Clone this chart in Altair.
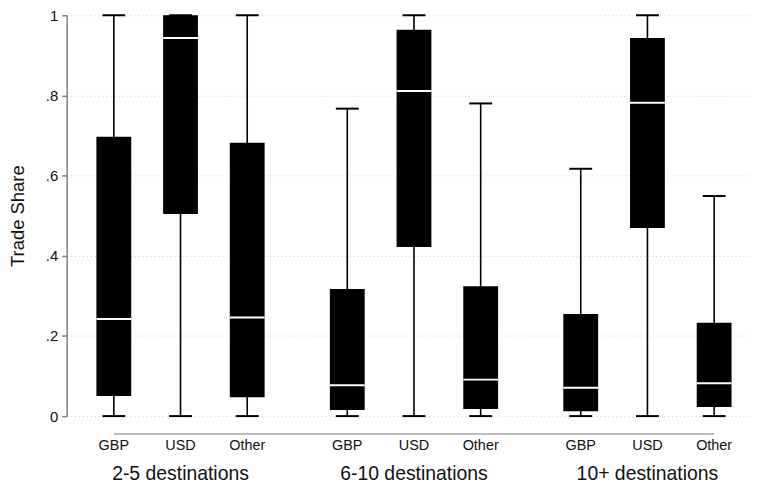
import altair as alt
import pandas as pd

groups = ["2-5 destinations", "6-10 destinations", "10+ destinations"]
currencies = ["GBP", "USD", "Other"]

lower = [0.0, 0.0, 0.0, 0.0, 0.0, 0.0, 0.0, 0.0, 0.0]
q1 = [0.050, 0.504, 0.047, 0.015, 0.422, 0.018, 0.012, 0.469, 0.023]
median = [0.242, 0.943, 0.246, 0.077, 0.811, 0.091, 0.071, 0.782, 0.082]
q3 = [0.697, 1.000, 0.682, 0.317, 0.964, 0.324, 0.255, 0.943, 0.233]
upper = [1.0, 1.0, 1.0, 0.767, 1.0, 0.780, 0.617, 1.0, 0.549]

GROUP_GAP = 0.5
rows = []
for gi, g in enumerate(groups):
    for ci, c in enumerate(currencies):
        k = gi * len(currencies) + ci
        rows.append({
            "group": g, "currency": c,
            "pos": gi * (len(currencies) + GROUP_GAP) + ci,
            "lower": lower[k], "q1": q1[k], "median": median[k],
            "q3": q3[k], "upper": upper[k],
        })
df = pd.DataFrame(rows)
gdf = df.groupby("group", sort=False)["pos"].mean().reset_index()
sep = pd.DataFrame({"pos": [df["pos"].min()], "pos_end": [df["pos"].max()]})

FONT = "Liberation Sans"
xscale = alt.Scale(domain=[-0.632, 9.478], nice=False, zero=False)
yscale = alt.Scale(domain=[0, 1], nice=False)
yaxis = alt.Axis(values=[0, 0.2, 0.4, 0.6, 0.8, 1],
                 labelExpr="replace(format(datum.value, '.1~f'), '0.', '.')",
                 labelFont=FONT, labelFontSize=15, labelColor="#111", labelPadding=4,
                 titleFont=FONT, titleFontSize=18.5, titleFontWeight="normal",
                 titleColor="#111")

x = alt.X("pos:Q", scale=xscale, axis=None)


def Y(field):
    return alt.Y(field, scale=yscale, title="Trade Share", axis=yaxis)


whisk = alt.Chart(df).mark_rule(color="black", strokeWidth=1.6).encode(
    x=x, y=Y("lower:Q"), y2="upper:Q")
cap_lo = alt.Chart(df).mark_tick(orient="horizontal", size=23, thickness=2,
                                 color="black", opacity=1).encode(x=x, y=Y("lower:Q"))
cap_hi = alt.Chart(df).mark_tick(orient="horizontal", size=23, thickness=2,
                                 color="black", opacity=1).encode(x=x, y=Y("upper:Q"))
box = alt.Chart(df).mark_bar(size=35, color="black").encode(x=x, y=Y("q1:Q"), y2="q3:Q")
med = alt.Chart(df).mark_tick(orient="horizontal", size=35, thickness=2,
                              color="white", opacity=1).encode(x=x, y=Y("median:Q"))

seprule = alt.Chart(sep).mark_rule(color="#a8a8a8", strokeWidth=1.5).encode(
    x=x, x2="pos_end:Q", y=alt.value(421))

cur_text = alt.Chart(df).mark_text(font=FONT, fontSize=14.5, color="#111",
                                   baseline="middle").encode(
    x=x, y=alt.value(433), text="currency:N")
grp_text = alt.Chart(gdf).mark_text(font=FONT, fontSize=19.5, color="#111",
                                    baseline="middle").encode(
    x=x, y=alt.value(461), text="group:N")

chart = alt.layer(whisk, cap_lo, cap_hi, box, med, seprule, cur_text, grp_text).properties(
    width=688, height=403,
    autosize=alt.AutoSizeParams(type="none"),
    padding={"left": 59, "top": 6, "right": 0, "bottom": 72},
    background="white",
).configure_view(stroke=None).configure_axisY(
    domainColor="#808080", domainWidth=1.5,
    tickColor="#808080", tickSize=5, tickWidth=1.5,
    grid=True, gridColor="#cfcfcf", gridDash=[1, 3], gridWidth=1,
    titleAngle=-90, titleX=-49, titleY=201.5, titleAlign="center", titleBaseline="middle",
)

chart.save("out.html", embed_options={"renderer": "svg", "actions": False})
